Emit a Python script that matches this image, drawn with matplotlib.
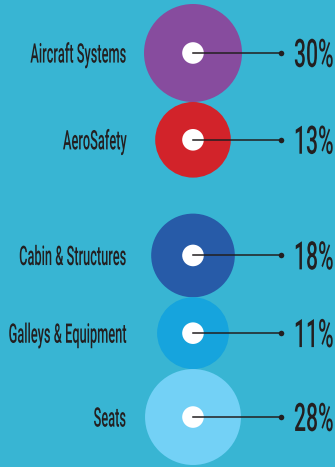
import numpy as np
import matplotlib
matplotlib.use("Agg")
import matplotlib.pyplot as plt
from matplotlib.patches import Circle
from matplotlib.patheffects import AbstractPathEffect
from matplotlib.transforms import Affine2D

# revenue share by business segment (%)
segments = ["Aircraft Systems", "AeroSafety", "Cabin & Structures",
            "Galleys & Equipment", "Seats"]
shares = [30, 13, 18, 11, 28]
groups = [0, 0, 1, 1, 1]
colors = ["#874c9e", "#d2232a", "#275ba8", "#16a4dd", "#73d1f6"]

BG = "#38b5d3"
INK = "#231f20"
W, H = 335, 467


class Squeeze(AbstractPathEffect):
    """Narrow glyph outlines horizontally to get condensed lettering."""

    def __init__(self, sx, pivot="left"):
        super().__init__()
        self.sx = sx
        self.pivot = pivot

    def draw_path(self, renderer, gc, tpath, affine, rgbFace=None):
        px = tpath.get_extents().x1 if self.pivot == "right" else 0.0
        narrow = Affine2D().translate(-px, 0).scale(self.sx, 1).translate(px, 0)
        renderer.draw_path(gc, tpath, narrow + affine, rgbFace)


# bubble radius from share, bubbles stacked touching, gap between groups
radii = 49 * (np.array(shares) / max(shares)) ** 0.31
cx = 193
centers = []
y = 4
prev = groups[0]
for r, g in zip(radii, groups):
    if g != prev:
        y += 36
        prev = g
    centers.append(y + r)
    y += 2 * r

fig = plt.figure(figsize=(3.35, 4.67), dpi=100, facecolor=BG)
ax = fig.add_axes([0, 0, 1, 1])
ax.set_xlim(0, W)
ax.set_ylim(H, 0)
ax.axis("off")

lbl_fs = 19.4
pct_fs = 28.2
cap = 0.711 * 100 / 72  # Roboto cap height, px per pt

for name, v, r, cy, c in zip(segments, shares, radii, centers, colors):
    ax.add_patch(Circle((cx, cy), r, color=c, lw=0, zorder=1))
    ax.add_patch(Circle((cx, cy), 10.8, color="white", lw=0, zorder=2))
    ax.plot([cx, cx + 88], [cy, cy], color=INK, lw=1.1, zorder=3)
    ax.plot(cx + 88, cy, "o", ms=4, color=INK, mew=0, zorder=3)
    ax.text(126.5, cy + cap * lbl_fs / 2, name, ha="right", va="baseline",
            fontsize=lbl_fs, family="Roboto", weight="medium", color=INK,
            path_effects=[Squeeze(0.475, "right")])
    ax.text(294, cy + cap * pct_fs / 2, f"{v}%", ha="left", va="baseline",
            fontsize=pct_fs, family="Roboto", weight="medium", color=INK,
            path_effects=[Squeeze(0.54)])

fig.savefig("out.png", dpi=100, facecolor=BG)
